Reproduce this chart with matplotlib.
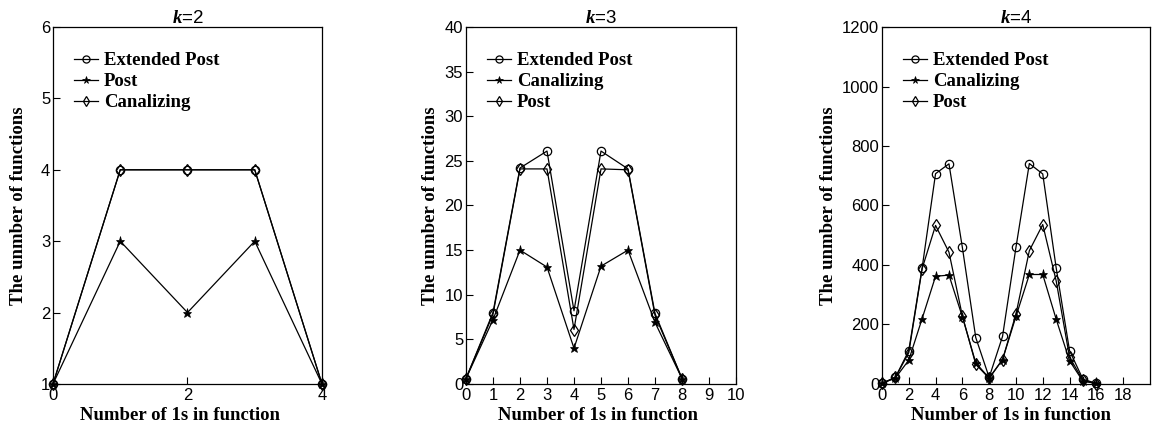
import matplotlib
matplotlib.use("Agg")
import matplotlib.pyplot as plt

plt.rcParams['mathtext.fontset'] = 'custom'
plt.rcParams['mathtext.bfit'] = 'Liberation Serif:italic:bold'
plt.rcParams['mathtext.it'] = 'Liberation Serif:italic'

SANS = 'Liberation Sans'
SERIF = 'Liberation Serif'

# k = 2
x_k2 = [0, 1, 2, 3, 4]
ext_k2 = [1, 4, 4, 4, 1]
post_k2 = [1, 3, 2, 3, 1]
canal_k2 = [1, 4, 4, 4, 1]

# k = 3
x_k3 = [0, 1, 2, 3, 4, 5, 6, 7, 8]
ext_k3 = [0.6, 8, 24.2, 26.1, 8.2, 26.1, 24.1, 7.9, 0.6]
canal_k3 = [0.6, 7.2, 15, 13.1, 4, 13.2, 15, 6.9, 0.6]
post_k3 = [0.6, 7.8, 24.1, 24.1, 6.1, 24.1, 24, 7.7, 0.6]

# k = 4
x_k4 = list(range(17))
ext_k4 = [2, 22, 112, 391, 707, 740, 459, 156, 22, 160, 459, 741, 706, 391, 112, 16, 2]
canal_k4 = [2, 20, 80, 220, 362, 366, 226, 71, 20, 82, 227, 368, 368, 218, 78, 9, 2]
post_k4 = [2, 22, 105, 388, 533, 443, 229, 66, 19, 82, 235, 448, 536, 347, 90, 12, 1]

circle = dict(marker='o', markersize=6, markerfacecolor='none', markeredgecolor='black', markeredgewidth=0.9)
star = dict(marker='*', markersize=6.5, markerfacecolor='black', markeredgecolor='black', markeredgewidth=0.5)
diamond = dict(marker='d', markersize=6.5, markerfacecolor='none', markeredgecolor='black', markeredgewidth=0.9)

fig = plt.figure(figsize=(11.52, 4.29), dpi=100)

panels = [
    dict(rect=[0.046, 0.105, 0.2335, 0.832], k=2, x=x_k2, ypad=10, xlab_x=0.473,
         series=[(ext_k2, circle, 'Extended Post'), (post_k2, star, 'Post'), (canal_k2, diamond, 'Canalizing')],
         xlim=(0, 4), xticks=[0, 2, 4], ylim=(1, 6), yticks=[1, 2, 3, 4, 5, 6]),
    dict(rect=[0.4045, 0.105, 0.2344, 0.832], k=3, x=x_k3, ypad=4, xlab_x=0.49,
         series=[(ext_k3, circle, 'Extended Post'), (canal_k3, star, 'Canalizing'), (post_k3, diamond, 'Post')],
         xlim=(0, 10), xticks=list(range(11)), ylim=(0, 40), yticks=list(range(0, 41, 5))),
    dict(rect=[0.7656, 0.105, 0.2326, 0.832], k=4, x=x_k4, ypad=4, xlab_x=0.482,
         series=[(ext_k4, circle, 'Extended Post'), (canal_k4, star, 'Canalizing'), (post_k4, diamond, 'Post')],
         xlim=(0, 20), xticks=list(range(0, 19, 2)), ylim=(0, 1200), yticks=list(range(0, 1201, 200))),
]

for p in panels:
    ax = fig.add_axes(p['rect'])
    for vals, style, label in p['series']:
        ax.plot(p['x'], vals, color='black', lw=0.9, label=label, clip_on=False, **style)
    ax.set_xlim(*p['xlim'])
    ax.set_ylim(*p['ylim'])
    ax.set_xticks(p['xticks'])
    ax.set_yticks(p['yticks'])
    ax.tick_params(direction='in', length=5, width=0.8, labelsize=12, pad=2,
                   top=False, right=False)
    ax.tick_params(axis='x', pad=3)
    for lab in ax.get_xticklabels() + ax.get_yticklabels():
        lab.set_family(SANS)
    for sp in ax.spines.values():
        sp.set_linewidth(0.9)
    ax.set_title(r'$\mathbfit{k}$=%d' % p['k'], family=SANS, fontsize=13.5, pad=3)
    ax.set_xlabel('Number of 1s in function', family=SERIF, fontweight='bold', fontsize=13.5, labelpad=3)
    ax.xaxis.label.set_x(p['xlab_x'])
    ax.set_ylabel('The unmber of functions', family=SERIF, fontweight='bold', fontsize=13.5, labelpad=p['ypad'])
    leg = ax.legend(loc='upper left', bbox_to_anchor=(0.05, 0.95), frameon=False,
                    prop={'family': SERIF, 'weight': 'bold', 'size': 13.5},
                    handlelength=1.3, handletextpad=0.3, labelspacing=0.2, borderaxespad=0,
                    markerscale=0.85)

fig.savefig('out.png', dpi=100)
